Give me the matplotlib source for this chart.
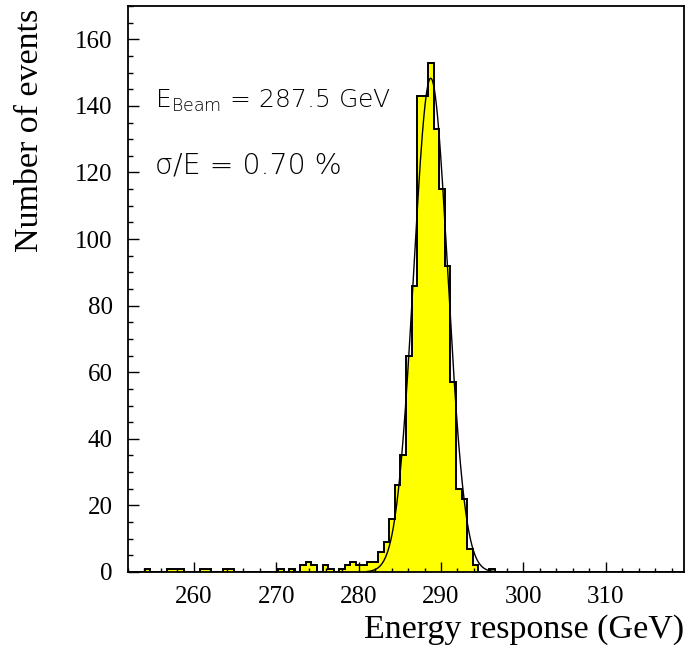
import numpy as np
import matplotlib
matplotlib.use("Agg")
from matplotlib import pyplot as plt
from matplotlib.ticker import MultipleLocator

# histogram binning (GeV)
hist_lo = 252.0
hist_hi = 319.5
n_bins = 100

# events per bin
counts = [
    0, 0, 0, 1, 0, 0, 0, 1, 1, 1,
    0, 0, 0, 1, 1, 0, 0, 1, 1, 0,
    0, 0, 0, 0, 0, 0, 0, 1, 0, 1,
    0, 2, 3, 2, 0, 2, 1, 0, 1, 2,
    3, 2, 2, 3, 3, 6, 9, 16, 26, 35,
    65, 86, 143, 143, 153, 133, 115, 92, 57, 25,
    22, 7, 2, 0, 0, 1, 0, 0, 0, 0,
    0, 0, 0, 0, 0, 0, 0, 0, 0, 0,
    0, 0, 0, 0, 0, 0, 0, 0, 0, 0,
    0, 0, 0, 0, 0, 0, 0, 0, 0, 0,
]

# gaussian fit drawn over the histogram
fit_amp = 148.3
fit_mean = 288.75
fit_sigma = 2.07
fit_lo, fit_hi = 281.0, 296.8

beam_text = r"$\mathregular{E_{Beam}}$ = 287.5 GeV"
res_text = "σ/E = 0.70 %"

plt.rcParams["mathtext.fontset"] = "custom"
plt.rcParams["mathtext.rm"] = "DejaVu Sans:light"

serif = ["Liberation Serif", "DejaVu Serif"]
sans = ["DejaVu Sans"]

fig = plt.figure(figsize=(6.86, 6.53), dpi=100)
ax = fig.add_axes([128 / 686, 1 - 572 / 653, 556 / 686, 566 / 653])

edges = np.linspace(hist_lo, hist_hi, n_bins + 1)
counts = np.array(counts, dtype=float)

ax.stairs(counts, edges, fill=True, color="#ffff00", baseline=0)
ax.stairs(counts, edges, color="black", linewidth=1.4, baseline=0)

xf = np.linspace(fit_lo, fit_hi, 400)
yf = fit_amp * np.exp(-0.5 * ((xf - fit_mean) / fit_sigma) ** 2)
ax.plot(xf, yf, color="black", linewidth=1.0)

ax.set_xlim(hist_lo, hist_hi)
ax.set_ylim(0, 170)

ax.xaxis.set_major_locator(MultipleLocator(10))
ax.xaxis.set_minor_locator(MultipleLocator(2))
ax.yaxis.set_major_locator(MultipleLocator(20))
ax.yaxis.set_minor_locator(MultipleLocator(5))
ax.tick_params(axis="x", which="major", direction="in", length=7.5, width=1, pad=10)
ax.tick_params(axis="x", which="minor", direction="in", length=3, width=1)
ax.tick_params(axis="y", which="major", direction="in", length=8, width=1, pad=11)
ax.tick_params(axis="y", which="minor", direction="in", length=3.4, width=1)
for lab in ax.get_xticklabels() + ax.get_yticklabels():
    lab.set_family(serif)
    lab.set_fontsize(18)

for sp in ax.spines.values():
    sp.set_linewidth(1.3)

ax.set_xlabel("Energy response (GeV)", family=serif, fontsize=24.5, ha="right")
ax.xaxis.set_label_coords(1.0, -0.075)
ax.set_ylabel("Number of events", family=serif, fontsize=24.5)
ax.yaxis.set_label_coords(-0.149, 0.78)

ax.text(255.3, 139.5, beam_text, family=sans, fontweight="light", fontsize=18,
        color="black", va="baseline", ha="left")
ax.text(255.3, 119.7, res_text, family=sans, fontweight="light", fontsize=20.5,
        color="black", va="baseline", ha="left")

fig.savefig("out.png", dpi=100)
